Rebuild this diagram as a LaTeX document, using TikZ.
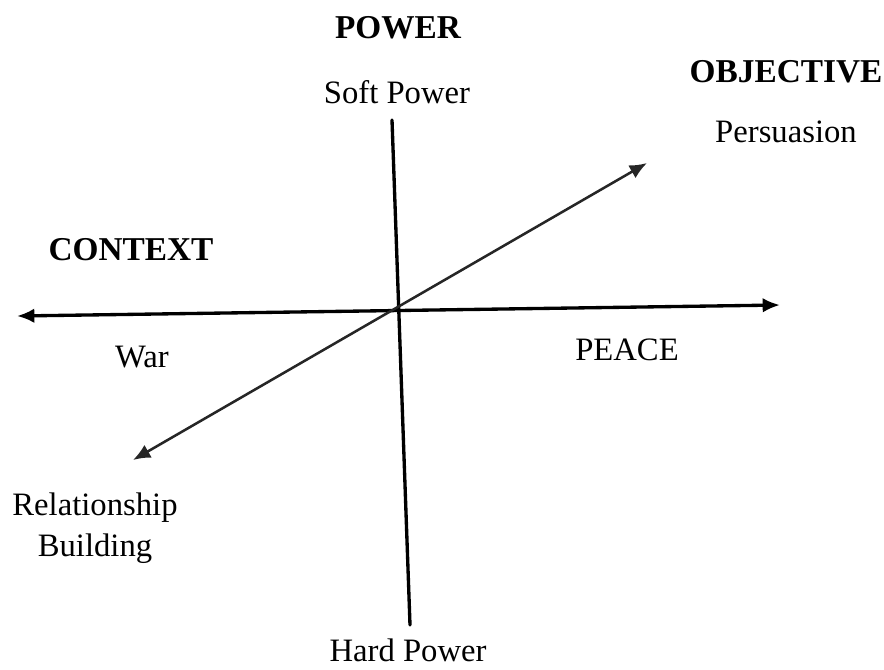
\documentclass[tikz,border=0pt]{standalone}
\usepackage{fontspec}
\setmainfont{Liberation Serif}
\usetikzlibrary{arrows.meta}
\tikzset{
  lbl/.style={font=\fontsize{24.5}{28}\selectfont, align=center, inner sep=0pt},
  head/.style={font=\fontsize{25}{29}\selectfont\bfseries, inner sep=0pt},
  axis/.style={line width=2.5pt},
}
\begin{document}
\begin{tikzpicture}[x=0.75pt,y=-0.75pt,line cap=round,line join=round,>={Latex[length=13pt,width=11pt]}]
  \useasboundingbox (0,0) rectangle (884,669);
  % axis ends
  \coordinate (west) at (17,316);
  \coordinate (east) at (780,305);
  \coordinate (top) at (392,120);
  \coordinate (bottom) at (410,625);
  \coordinate (ne) at (647,163);
  \coordinate (sw) at (133,460);
  \draw[axis,<->] (west) -- (east);
  \draw[axis] (top) -- (bottom);
  \draw[line width=1.9pt,black!85,<->] (sw) -- (ne);
  % labels
  \node[head] (power) at (398,28) {POWER};
  \node[lbl] (soft) at (397,92) {Soft Power};
  \node[head] (objective) at (786,72) {OBJECTIVE};
  \node[lbl] (persuasion) at (786,132) {Persuasion};
  \node[head] (context) at (131,250) {CONTEXT};
  \node[lbl] (war) at (142,357) {War};
  \node[lbl] (peace) at (627,350) {PEACE};
  \node[lbl] (relation) at (95,528) {Relationship\\[3pt]Building};
  \node[lbl] (hard) at (408,650) {Hard Power};
\end{tikzpicture}
\end{document}
